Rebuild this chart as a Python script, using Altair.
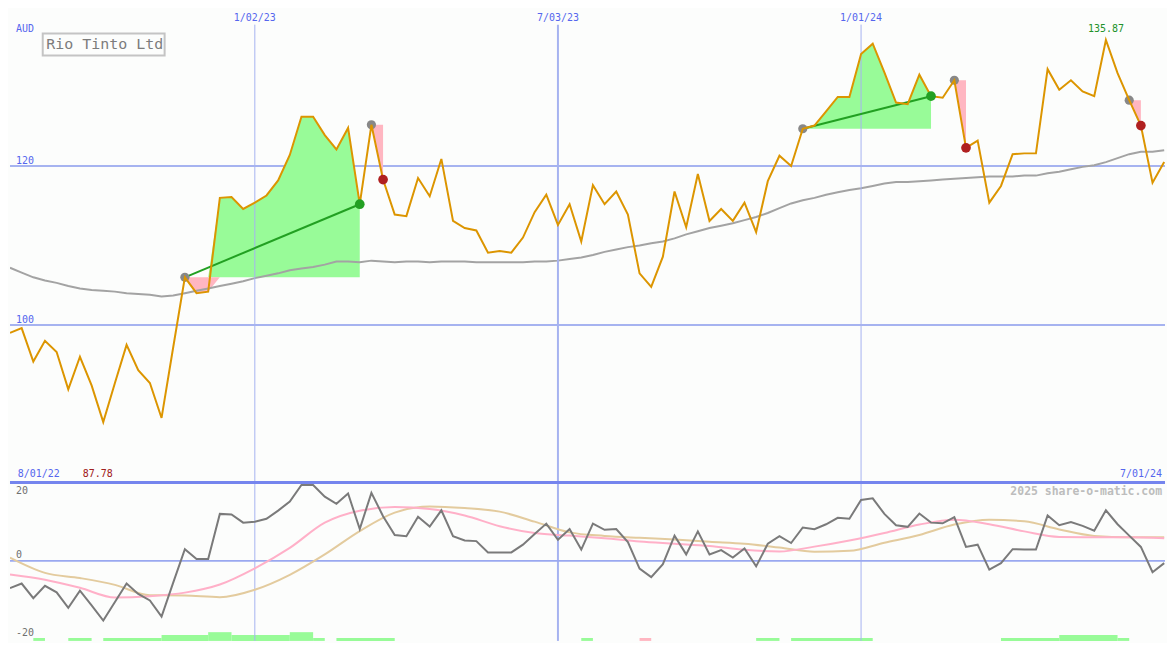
import altair as alt
import pandas as pd

# ---------------- data ----------------
# weekly closes, week index 0..99 (8/01/22 .. 7/01/24)
PRICE = [
    99.0, 99.6, 95.4, 98.0, 96.6, 91.9, 96.0, 92.4, 87.78, 92.7,
    97.5, 94.3, 92.7, 88.3, 97.2, 106.0, 104.0, 104.2, 116.0, 116.1,
    114.6, 115.4, 116.3, 118.2, 121.4, 126.2, 126.2, 123.9, 122.1, 124.8,
    115.2, 125.2, 118.3, 113.9, 113.7, 118.5, 116.2, 120.9, 113.1, 112.2,
    111.9, 109.1, 109.3, 109.1, 111.0, 114.2, 116.4, 112.6, 115.2, 110.5,
    117.6, 115.2, 116.8, 113.9, 106.5, 104.8, 108.6, 116.8, 112.3, 119.0,
    113.1, 114.6, 113.1, 115.4, 111.7, 118.1, 121.3, 120.0, 124.7, 125.1,
    126.9, 128.7, 128.7, 134.1, 135.4, 131.8, 128.0, 127.8, 131.5, 128.8,
    128.6, 130.8, 122.3, 123.2, 115.4, 117.5, 121.5, 121.6, 121.6, 132.2,
    129.6, 130.8, 129.4, 128.8, 135.87, 131.7, 128.3, 125.1, 117.9, 120.5,
]
# long moving average of the close (grey line)
PRICE_MA = [
    107.2, 106.6, 106.0, 105.6, 105.3, 104.9, 104.6, 104.4, 104.3, 104.2,
    104.0, 103.9, 103.8, 103.6, 103.7, 104.0, 104.3, 104.6, 104.9, 105.2,
    105.5, 105.9, 106.2, 106.5, 106.9, 107.1, 107.3, 107.6, 108.0, 108.0,
    107.9, 108.1, 108.0, 107.9, 108.0, 108.0, 107.9, 108.0, 108.0, 108.0,
    107.9, 107.9, 107.9, 107.9, 107.9, 108.0, 108.0, 108.1, 108.3, 108.5,
    108.8, 109.2, 109.5, 109.8, 110.0, 110.3, 110.5, 110.9, 111.4, 111.8,
    112.2, 112.5, 112.8, 113.2, 113.6, 114.1, 114.7, 115.3, 115.7, 116.0,
    116.4, 116.7, 117.0, 117.2, 117.5, 117.8, 118.0, 118.0, 118.1, 118.2,
    118.3, 118.4, 118.5, 118.6, 118.7, 118.7, 118.7, 118.8, 118.8, 119.1,
    119.3, 119.6, 119.9, 120.1, 120.5, 121.0, 121.5, 121.8, 121.8, 122.0,
]
# trades: entry / exit week index
TRADE_ENTRY = [15, 31, 68, 81, 96]
TRADE_EXIT = [30, 32, 79, 82, 97]

# lower panel oscillator
OSC = [
    -8.4, -7.0, -11.5, -7.7, -9.7, -14.5, -9.2, -13.7, -18.4, -12.7,
    -7.0, -10.2, -12.2, -17.2, -6.7, 3.6, 0.6, 0.6, 14.5, 14.3,
    11.8, 12.1, 13.0, 15.5, 18.3, 23.4, 23.4, 19.8, 17.6, 20.8,
    9.8, 21.0, 13.8, 8.0, 7.6, 13.6, 10.6, 15.6, 7.6, 6.3,
    6.1, 2.6, 2.6, 2.6, 5.0, 8.3, 11.5, 6.5, 9.8, 3.5,
    11.5, 9.6, 9.8, 5.8, -2.4, -5.0, -1.0, 7.8, 2.0, 9.1,
    2.0, 3.3, 1.0, 3.8, -1.7, 5.3, 7.6, 5.5, 10.3, 9.8,
    11.3, 13.3, 13.0, 18.8, 19.3, 14.5, 11.0, 10.5, 14.6, 11.8,
    11.6, 13.5, 4.3, 5.0, -2.7, -0.7, 3.6, 3.5, 3.5, 14.0,
    11.0, 12.0, 10.8, 9.3, 15.6, 11.3, 7.8, 4.3, -3.5, -0.7,
]
OSC_MA_IDX = [0, 3, 6, 9, 12, 15, 18, 21, 24, 27, 30, 33, 36, 39, 42, 45, 48,
              51, 54, 57, 60, 63, 66, 69, 72, 75, 78, 81, 84, 87, 90, 93, 96, 99]
OSC_FAST = [-4.2, -5.8, -8.3, -11.3, -10.9, -9.8, -7.3, -2.3, 4.0, 11.8, 15.5,
            16.6, 16.0, 14.0, 10.7, 8.6, 7.8, 7.0, 6.0, 5.3, 4.6, 3.4, 2.9, 4.4,
            6.3, 8.6, 11.2, 12.7, 11.3, 9.1, 7.4, 7.3, 7.3, 7.0]
OSC_SLOW = [1.0, -3.7, -5.3, -7.4, -10.6, -10.7, -11.2, -8.9, -4.3, 2.0, 9.2,
            14.9, 16.8, 16.3, 15.2, 12.1, 8.8, 7.7, 7.1, 6.6, 5.9, 5.3, 4.1, 2.8,
            3.1, 5.6, 8.0, 11.2, 12.7, 12.2, 9.7, 7.7, 7.3, 7.3]

# signal strip at the bottom
BAR_START = [2, 5, 8, 13, 17, 19, 24, 26, 28, 49, 54, 64, 67, 85, 90, 95]
BAR_END = [3, 7, 13, 17, 19, 24, 26, 27, 33, 50, 55, 66, 74, 90, 95, 96]
BAR_LEVEL = [1, 1, 1, 2, 3, 2, 3, 1, 1, 1, 1, 1, 1, 1, 2, 1]
BAR_KIND = ["up", "up", "up", "up", "up", "up", "up", "up", "up", "up",
            "down", "up", "up", "up", "up", "up"]

DATE_IDX = [21, 47, 73]
DATE_LABELS = ["1/02/23", "7/03/23", "1/01/24"]
PRICE_LEVELS = [120, 100]
PRICE_LEVEL_LABELS = ["120", "100"]
TITLE = "Rio Tinto Ltd"
CURRENCY = "AUD"
START_LABEL = "8/01/22"
END_LABEL = "7/01/24"
MIN_LABEL = "87.78"
MAX_LABEL = "135.87"
WATERMARK = "2025 share-o-matic.com"

# ---------------- layout / style ----------------
W, H1, H2 = 1159, 475, 159
SX = W / 1175
SY = (H1 + H2) / 650
XMAX = 99.07
P_LO, P_HI = 80.18, 139.76
O_LO, O_HI = -24.7, 24.2
BG = "#fcfdfc"
FONT = "DejaVu Sans Mono"
ORANGE = "#dc9500"
GRID = "#a6b3f0"
BLUE_TXT = "#5566ee"
GREEN_FILL = "#98fb98"
PINK_FILL = "#ffb6c1"

xs = alt.Scale(domain=[0, XMAX], nice=False, zero=False)
ps = alt.Scale(domain=[P_LO, P_HI], nice=False, zero=False)
os_ = alt.Scale(domain=[O_LO, O_HI], nice=False, zero=False)


def X(f="i"):
    return alt.X(f"{f}:Q", scale=xs, axis=None)


def YP(f):
    return alt.Y(f"{f}:Q", scale=ps, axis=None)


def YO(f):
    return alt.Y(f"{f}:Q", scale=os_, axis=None)


one = pd.DataFrame({"a": [0]})


def label(txt, x, y, color, size=10, align="left", weight="normal"):
    return alt.Chart(one).mark_text(
        font=FONT, fontSize=size, color=color, align=align, baseline="middle",
        fontWeight=weight,
    ).encode(x=alt.value(x), y=alt.value(y), text=alt.value(txt))


price_df = pd.DataFrame({"i": list(range(len(PRICE))), "p": PRICE, "ma": PRICE_MA})
dates_df = pd.DataFrame({"i": DATE_IDX, "lab": DATE_LABELS})
levels_df = pd.DataFrame({"lvl": PRICE_LEVELS, "lab": PRICE_LEVEL_LABELS})

up_rows, dn_rows, gl_rows, pt_rows = [], [], [], []
for t, (a, b) in enumerate(zip(TRADE_ENTRY, TRADE_EXIT)):
    e = PRICE[a]
    ups = [{"t": t, "i": k, "top": max(PRICE[k], e), "base": e} for k in range(a, b + 1)]
    dns = [{"t": t, "i": k, "top": min(PRICE[k], e), "base": e} for k in range(a, b + 1)]
    if any(r["top"] != e for r in ups):
        up_rows += ups
    if any(r["top"] != e for r in dns):
        dn_rows += dns
    win = PRICE[b] > e
    if win:
        gl_rows += [{"t": t, "i": a, "p": e}, {"t": t, "i": b, "p": PRICE[b]}]
    pt_rows.append({"i": a, "p": e, "k": "entry"})
    pt_rows.append({"i": b, "p": PRICE[b], "k": "win" if win else "loss"})
pts = pd.DataFrame(pt_rows)

hgrid = alt.Chart(levels_df).mark_rule(color=GRID, strokeWidth=2).encode(y=YP("lvl"))
area_up = alt.Chart(pd.DataFrame(up_rows)).mark_area(color=GREEN_FILL, opacity=1).encode(
    x=X(), y=YP("top"), y2="base:Q", detail="t:N")
area_dn = alt.Chart(pd.DataFrame(dn_rows)).mark_area(color=PINK_FILL, opacity=1).encode(
    x=X(), y=YP("top"), y2="base:Q", detail="t:N")
ma_line = alt.Chart(price_df).mark_line(color="#a3a3a3", strokeWidth=2, clip=True).encode(
    x=X(), y=YP("ma"))
vgrid_top = alt.Chart(dates_df).mark_rule(color=GRID).encode(
    x=X(), y=alt.value(16 * SY), y2=alt.value(H1),
    strokeWidth=alt.condition("datum.i == 47", alt.value(2), alt.value(1)))
green_line = alt.Chart(pd.DataFrame(gl_rows)).mark_line(color="#22a022", strokeWidth=2).encode(
    x=X(), y=YP("p"), detail="t:N")
entry_pts = alt.Chart(pts).transform_filter("datum.k == 'entry'").mark_circle(
    size=85, opacity=1, color="#888888").encode(x=X(), y=YP("p"))
price_line = alt.Chart(price_df).mark_line(color=ORANGE, strokeWidth=2, clip=True).encode(
    x=X(), y=YP("p"))
win_pts = alt.Chart(pts).transform_filter("datum.k == 'win'").mark_circle(
    size=95, opacity=1, color="#23a023").encode(x=X(), y=YP("p"))
loss_pts = alt.Chart(pts).transform_filter("datum.k == 'loss'").mark_circle(
    size=95, opacity=1, color="#b02020").encode(x=X(), y=YP("p"))
date_txt = alt.Chart(dates_df).mark_text(font=FONT, fontSize=10, color=BLUE_TXT,
                                         baseline="middle").encode(
    x=X(), y=alt.value(9 * SY), text="lab:N")
level_txt = alt.Chart(levels_df).mark_text(font=FONT, fontSize=10, color=BLUE_TXT, align="left",
                                           baseline="middle", dy=-5).encode(
    x=alt.value(6 * SX), y=YP("lvl"), text="lab:N")
title_box = alt.Chart(one).mark_rect(fill=BG, stroke="#c4c4c4", strokeWidth=2).encode(
    x=alt.value(33.3 * SX), x2=alt.value(157.3 * SX), y=alt.value(25 * SY), y2=alt.value(47.7 * SY))

top = alt.layer(
    hgrid, area_up, area_dn, ma_line, vgrid_top, green_line, entry_pts, price_line,
    win_pts, loss_pts, date_txt, level_txt, title_box,
    label(TITLE, 37 * SX, 36 * SY, "#7c7c7c", size=15),
    label(CURRENCY, 6 * SX, 21 * SY, BLUE_TXT),
    label(START_LABEL, 8 * SX, 478.5 * SY, BLUE_TXT),
    label(MIN_LABEL, 74 * SX, 478.5 * SY, "#a02020"),
    label(END_LABEL, 1172 * SX, 478.5 * SY, BLUE_TXT, align="right"),
    label(MAX_LABEL, 1115 * SX, 20 * SY, "#22922a", align="center"),
).properties(width=W, height=H1)

# ---------------- lower panel ----------------
osc_df = pd.DataFrame({"i": list(range(len(OSC))), "v": OSC})
oma_df = pd.DataFrame({"i": OSC_MA_IDX, "fast": OSC_FAST, "slow": OSC_SLOW})
bars_df = pd.DataFrame({"s": BAR_START, "e": BAR_END, "lvl": BAR_LEVEL, "k": BAR_KIND})
zero_df = pd.DataFrame({"z": [0]})

bar_y = alt.Y("lvl:Q", scale=alt.Scale(domain=[0, 3], range=[H2, H2 - 9 * SY], nice=False,
                                       zero=False), axis=None)
bars_up = alt.Chart(bars_df).transform_filter("datum.k == 'up'").mark_rect(
    color=GREEN_FILL).encode(x=X("s"), x2="e:Q", y=bar_y, y2=alt.datum(0))
bars_dn = alt.Chart(bars_df).transform_filter("datum.k == 'down'").mark_rect(
    color=PINK_FILL).encode(x=X("s"), x2="e:Q", y=bar_y, y2=alt.datum(0))
zero_rule = alt.Chart(zero_df).mark_rule(color="#9aa8f0", strokeWidth=2).encode(y=YO("z"))
vgrid_bot = alt.Chart(dates_df).mark_rule(color=GRID).encode(
    x=X(), y=alt.value(0), y2=alt.value(H2),
    strokeWidth=alt.condition("datum.i == 47", alt.value(2), alt.value(1)))
slow_line = alt.Chart(oma_df).mark_line(color="#e3cb9e", strokeWidth=2, interpolate="monotone",
                                        clip=True).encode(x=X(), y=YO("slow"))
fast_line = alt.Chart(oma_df).mark_line(color="#ffb0c8", strokeWidth=2, interpolate="monotone",
                                        clip=True).encode(x=X(), y=YO("fast"))
osc_line = alt.Chart(osc_df).mark_line(color="#7a7a7a", strokeWidth=2, clip=True).encode(
    x=X(), y=YO("v"))
sep = alt.Chart(one).mark_rule(color="#7585ee", strokeWidth=3).encode(
    x=alt.value(0), x2=alt.value(W), y=alt.value(0))

bottom = alt.layer(
    bars_up, bars_dn, vgrid_bot, zero_rule, slow_line, fast_line, osc_line, sep,
    label("20", 6 * SX, 9 * SY, "#707070"),
    label("0", 6 * SX, 75 * SY, "#707070"),
    label("-20", 6 * SX, 155 * SY, "#707070"),
    label(WATERMARK, 1172 * SX, 9.5 * SY, "#bdbdbd", size=11.5, align="right", weight="bold"),
).properties(width=W, height=H2).resolve_scale(y="independent")

chart = alt.vconcat(top, bottom, spacing=0, bounds="flush").properties(
    padding=0, background=BG
).configure_view(stroke=None)

chart.save("out.html", embed_options={"renderer": "svg", "actions": False})
